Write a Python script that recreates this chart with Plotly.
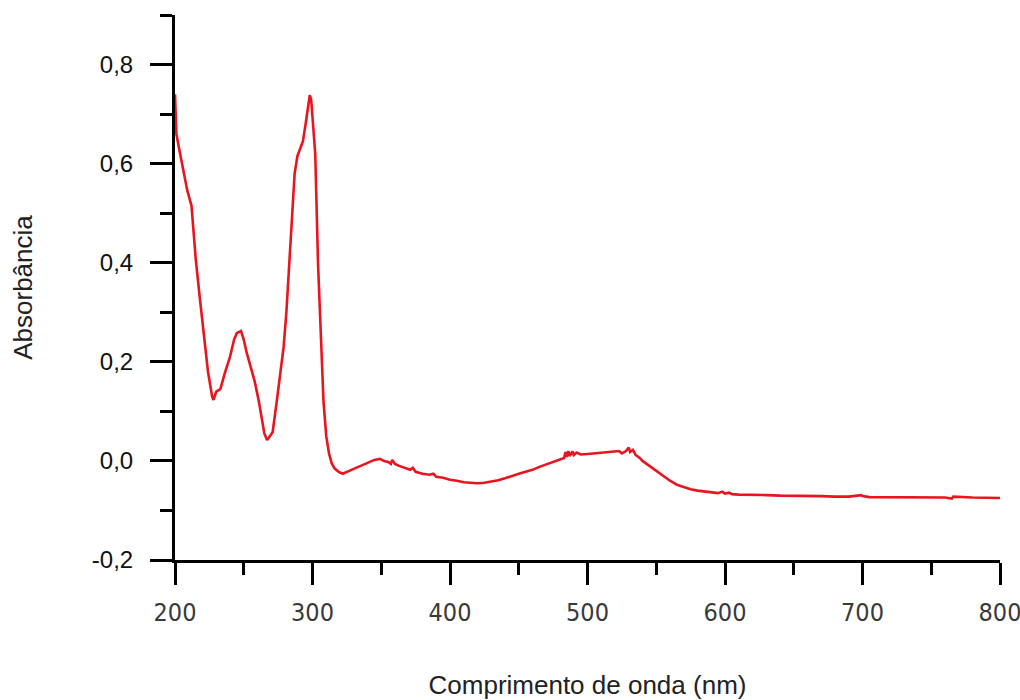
import plotly.graph_objects as go

# UV-Vis absorption spectrum
wavelength_nm = [
    200, 201, 203, 206, 209, 212, 215, 218, 221, 224, 227, 228, 230, 233, 236, 240,
    243, 245, 248, 250, 252, 255, 258, 261, 263, 265, 267, 269, 271, 274, 277, 279,
    281, 283, 285, 287, 289, 291, 293, 295, 297, 298, 299, 300, 302, 304, 306, 308,
    310, 312, 314, 316, 319, 322, 325, 330, 335, 340, 345, 349, 352, 355, 357, 358,
    360, 363, 367, 371, 373, 375, 380, 385, 388, 390, 395, 400, 405, 410, 415, 420,
    425, 430, 435, 440, 445, 450, 455, 460, 465, 470, 475, 480, 483, 484, 485, 486,
    487, 489, 490, 492, 495, 500, 505, 510, 515, 520, 523, 525, 528, 530, 531, 533,
    535, 538, 540, 543, 546, 550, 555, 560, 565, 570, 575, 580, 585, 590, 595, 598,
    600, 603, 605, 610, 620, 630, 640, 650, 660, 670, 680, 690, 699, 700, 705, 720,
    740, 760, 765, 766, 780, 800,
]
absorbance = [
    0.740, 0.660, 0.630, 0.590, 0.545, 0.515, 0.410, 0.330, 0.250, 0.180, 0.130, 0.123, 0.140, 0.145, 0.175, 0.210,
    0.245, 0.258, 0.262, 0.245, 0.220, 0.190, 0.160, 0.120, 0.090, 0.055, 0.042, 0.050, 0.058, 0.120, 0.190, 0.230,
    0.300, 0.390, 0.490, 0.580, 0.615, 0.630, 0.645, 0.680, 0.720, 0.738, 0.730, 0.690, 0.620, 0.400, 0.240, 0.120,
    0.050, 0.015, -0.005, -0.015, -0.022, -0.026, -0.022, -0.016, -0.010, -0.004, 0.002, 0.004, 0.000, -0.002, -0.006, 0.002,
    -0.006, -0.010, -0.014, -0.018, -0.014, -0.022, -0.026, -0.028, -0.026, -0.032, -0.034, -0.038, -0.040, -0.043, -0.044, -0.045,
    -0.044, -0.042, -0.039, -0.035, -0.030, -0.026, -0.022, -0.018, -0.012, -0.007, -0.002, 0.004, 0.006, 0.018, 0.008, 0.020,
    0.010, 0.019, 0.012, 0.017, 0.013, 0.014, 0.015, 0.016, 0.017, 0.019, 0.020, 0.015, 0.020, 0.027, 0.018, 0.022,
    0.012, 0.006, 0.000, -0.006, -0.012, -0.020, -0.030, -0.040, -0.048, -0.053, -0.057, -0.060, -0.062, -0.064, -0.065, -0.062,
    -0.066, -0.064, -0.067, -0.068, -0.068, -0.069, -0.070, -0.070, -0.071, -0.071, -0.072, -0.072, -0.069, -0.071, -0.073, -0.073,
    -0.073, -0.074, -0.076, -0.072, -0.074, -0.075,
]

x_ticks = [200, 300, 400, 500, 600, 700, 800]
x_tick_labels = ["200", "300", "400", "500", "600", "700", "800"]
y_ticks = [-0.2, 0.0, 0.2, 0.4, 0.6, 0.8]
y_tick_labels = ["-0,2", "0,0", "0,2", "0,4", "0,6", "0,8"]

fig = go.Figure()
fig.add_trace(go.Scatter(
    x=wavelength_nm, y=absorbance, mode="lines",
    line=dict(color="#e8151f", width=2.6),
    showlegend=False,
))

axis_common = dict(
    showline=True, linecolor="black", linewidth=3,
    ticks="outside", tickcolor="black", tickwidth=3, ticklen=22,
    showgrid=False, zeroline=False, automargin=False,
)

fig.update_xaxes(
    range=[200, 800], tickvals=x_ticks, ticktext=x_tick_labels,
    minor=dict(ticks="outside", dtick=50, tick0=200, ticklen=12, tickwidth=3, tickcolor="black"),
    tickfont=dict(family="Liberation Sans Narrow, DejaVu Sans Condensed, Liberation Sans, sans-serif",
                  size=25, color="#3a3a3a"),
    ticklabelstandoff=6, ticklabeloverflow="allow",
    title=dict(text="Comprimento de onda (nm)", standoff=62,
               font=dict(family="Liberation Sans, Arial, sans-serif", size=26, color="#222222")),
    **axis_common,
)
fig.update_yaxes(
    range=[-0.2, 0.9], tickvals=y_ticks, ticktext=y_tick_labels,
    minor=dict(ticks="outside", dtick=0.1, tick0=-0.2, ticklen=12, tickwidth=3, tickcolor="black"),
    tickfont=dict(family="Liberation Sans, Arial, sans-serif", size=24, color="#111111"),
    ticklabelstandoff=12,
    title=dict(text="Absorbância", standoff=52,
               font=dict(family="Liberation Sans, Arial, sans-serif", size=26, color="#222222")),
    **axis_common,
)

fig.update_layout(
    width=1020, height=700,
    margin=dict(l=175, r=20, t=15, b=140),
    paper_bgcolor="white", plot_bgcolor="white",
)

fig.write_html("out.html")
